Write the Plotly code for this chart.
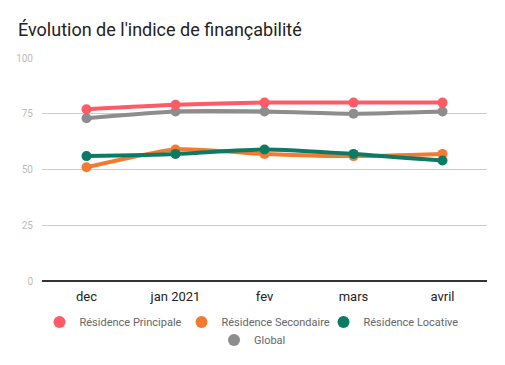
import plotly.graph_objects as go

categories = ["dec", "jan 2021", "fev", "mars", "avril"]
principale = [77, 79, 80, 80, 80]
secondaire = [51, 59, 57, 56, 57]
locative = [56, 57, 59, 57, 54]
global_ = [73, 76, 76, 75, 76]

series = [
    ("Résidence Principale", principale, "#ff5a66", "legend"),
    ("Résidence Secondaire", secondaire, "#f47a31", "legend"),
    ("Résidence Locative", locative, "#0d7b63", "legend"),
    ("Global", global_, "#8d8d8d", "legend2"),
]

fig = go.Figure()
order = [3, 0, 1, 2]
for i in order:
    name, vals, col, lg = series[i]
    fig.add_trace(go.Scatter(
        x=categories, y=vals, mode="lines+markers", name=name,
        line=dict(color=col, width=4, shape="spline", smoothing=0.6),
        marker=dict(color=col, size=10),
        showlegend=False, hoverinfo="skip",
    ))
for name, vals, col, lg in series:
    fig.add_trace(go.Scatter(
        x=[None], y=[None], mode="markers", name=name, legend=lg,
        marker=dict(color=col, size=13),
    ))

legend_common = dict(orientation="h", xref="container", x=0.5, xanchor="center",
                     yref="container", yanchor="middle",
                     font=dict(size=11, color="#666"), itemsizing="constant",
                     traceorder="normal", bgcolor="rgba(0,0,0,0)")

fig.update_layout(
    width=505, height=365,
    margin=dict(l=42, r=18, t=58, b=84, autoexpand=False),
    paper_bgcolor="white", plot_bgcolor="white",
    font=dict(family="Roboto", color="#222"),
    title=dict(text="Évolution de l'indice de finançabilité", xref="container", x=18/505,
               xanchor="left", yref="container", y=1 - 30/365, yanchor="middle",
               pad=dict(l=0, r=0, t=0, b=0),
               font=dict(size=18, color="#222")),
    showlegend=True,
    legend=dict(legend_common, y=1 - 322/365, entrywidth=97, entrywidthmode="pixels"),
    legend2=dict(legend_common, y=1 - 340/365),
    xaxis=dict(type="category", range=[-0.5, 4.5], showgrid=False,
               tickfont=dict(size=13, color="#222"), ticks="", showline=False,
               ticklabelstandoff=6),
    yaxis=dict(range=[0, 100], tickvals=[0, 25, 50, 75, 100], showgrid=True,
               gridcolor="#cccccc", gridwidth=1, zeroline=True, zerolinecolor="#333",
               zerolinewidth=1.5, tickfont=dict(size=10, color="#bbbbbb"), ticks="",
               ticklabelstandoff=8),
)
fig.write_html("out.html", config={"displayModeBar": False},
               post_script="document.body.style.margin='0';document.body.style.padding='0';")
